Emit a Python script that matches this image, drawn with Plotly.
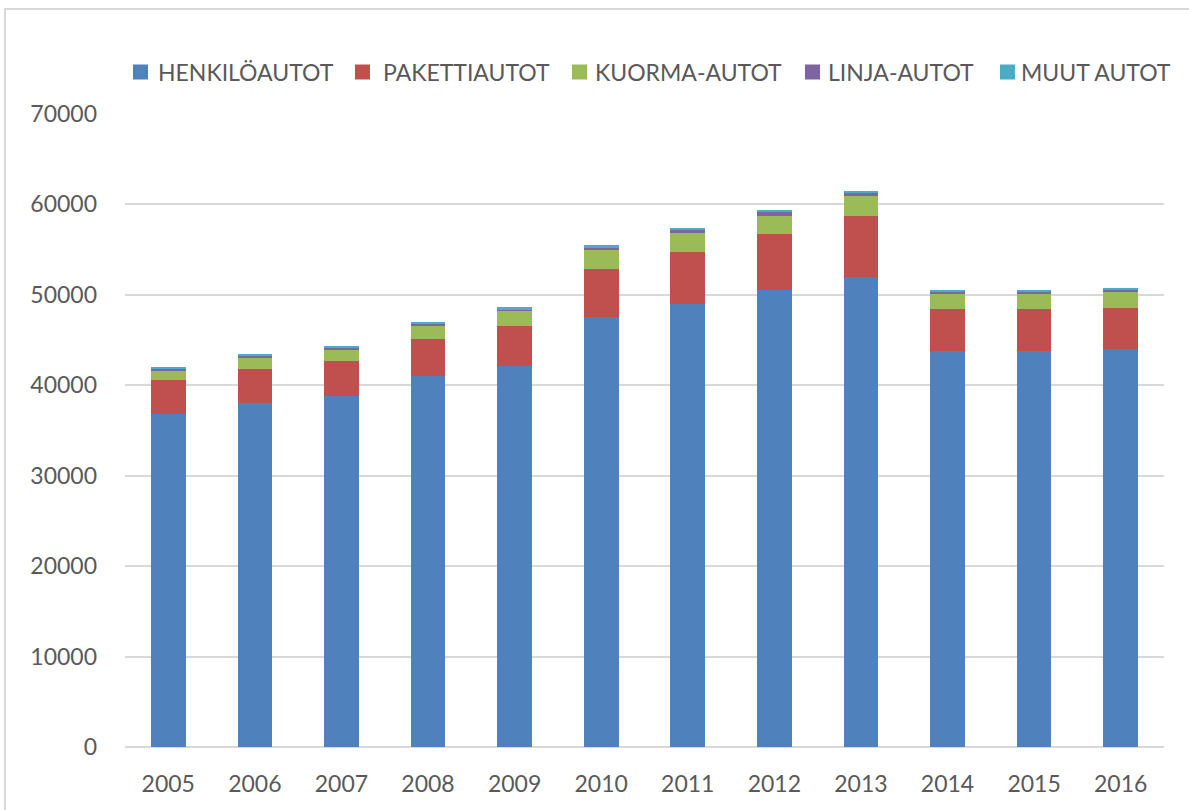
import plotly.graph_objects as go

years = ["2005", "2006", "2007", "2008", "2009", "2010", "2011", "2012", "2013", "2014", "2015", "2016"]
henkiloautot = [36800, 38000, 38800, 41050, 42170, 47580, 49030, 50500, 52010, 43790, 43800, 43980]
pakettiautot = [3760, 3760, 3880, 4060, 4420, 5250, 5690, 6200, 6710, 4610, 4600, 4570]
kuorma_autot = [1110, 1320, 1320, 1470, 1660, 2130, 2140, 2070, 2240, 1770, 1770, 1800]
linja_autot = [190, 180, 150, 260, 180, 170, 330, 400, 340, 180, 190, 260]
muut_autot = [170, 110, 180, 110, 190, 350, 110, 110, 180, 190, 170, 110]

series_names = ["HENKILÖAUTOT", "PAKETTIAUTOT", "KUORMA-AUTOT", "LINJA-AUTOT", "MUUT AUTOT"]
series_values = [henkiloautot, pakettiautot, kuorma_autot, linja_autot, muut_autot]
series_colors = ["#4F81BD", "#C0504D", "#9BBB59", "#8064A2", "#4BACC6"]

fig = go.Figure()
for name, vals, col in zip(series_names, series_values, series_colors):
    fig.add_trace(go.Bar(x=years, y=vals, name=name, showlegend=False,
                         marker=dict(color=col, line=dict(width=0))))

W, H = 1189, 810
L, R, T, B = 125, 25, 114, 63
pw, ph = W - L - R, H - T - B

def px_x(p):
    return (p - L) / pw

def px_y(p):
    return (T + ph - p) / ph

# legend layout (pixel positions of swatches / labels)
swatch_x = [133, 355, 572, 805, 1000]
label_x = [156, 381, 593, 826, 1019]
leg_y = 72

shapes = [dict(type="rect", xref="paper", yref="paper",
               x0=px_x(5), x1=px_x(W + 20), y0=px_y(H + 20), y1=px_y(9),
               line=dict(color="#D9D9D9", width=2), fillcolor="rgba(0,0,0,0)", layer="below")]
annotations = []
for name, col, sx, lx in zip(series_names, series_colors, swatch_x, label_x):
    shapes.append(dict(type="rect", xref="paper", yref="paper",
                       x0=px_x(sx), x1=px_x(sx + 15), y0=px_y(leg_y + 7.5), y1=px_y(leg_y - 7.5),
                       line=dict(width=0), fillcolor=col))
    annotations.append(dict(text=name, xref="paper", yref="paper", x=px_x(lx), y=px_y(leg_y),
                            xanchor="left", yanchor="middle", showarrow=False,
                            font=dict(size=23, color="#595959")))

fig.update_layout(
    width=W, height=H,
    barmode="stack", bargap=0.6,
    paper_bgcolor="white", plot_bgcolor="white",
    margin=dict(l=L, r=R, t=T, b=B),
    font=dict(family="Lato, Liberation Sans, sans-serif", size=23, color="#595959"),
    showlegend=False,
    xaxis=dict(showgrid=False, showline=False, ticks="", ticklabelstandoff=21),
    yaxis=dict(range=[0, 70000], dtick=10000, tickformat="d", showgrid=True, gridcolor="#D9D9D9",
               gridwidth=1.5, zeroline=True, zerolinecolor="#D9D9D9", zerolinewidth=1.5,
               ticks="", ticklabelstandoff=27),
    shapes=shapes,
    annotations=annotations,
)

fig.write_html("out.html", config={"displayModeBar": False},
               post_script="document.body.style.margin='0';document.body.style.overflow='hidden';")
